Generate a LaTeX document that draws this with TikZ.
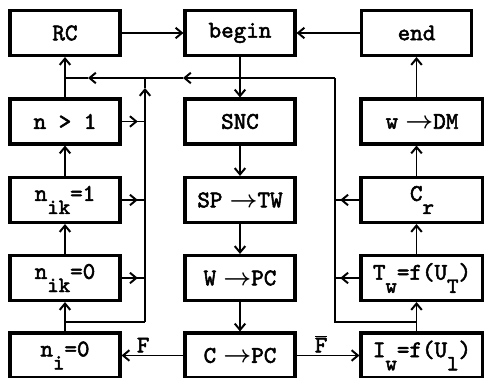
\documentclass[tikz,border=0pt]{standalone}
\usepackage{fontspec}
\usepackage{tikz}
\usetikzlibrary{arrows.meta}

% heavy typewriter face of the chart
\newfontfamily\chartfont{lmmono10-regular.otf}[FakeBold=2.2]
% lowered index, as in the scanned chart
\newcommand{\lowsub}[1]{\raisebox{-0.55em}{\fontsize{15.5}{16}\selectfont #1}}
% "becomes" arrow inside a block text
\newcommand{\into}{\hspace{0.3em}$\rightarrow$}

\begin{document}
\begin{tikzpicture}[>={Straight Barb[length=4.5pt,width=7.5pt]},
    every node/.style={font=\fontsize{17}{19}\selectfont\chartfont\boldmath},
    block/.style={draw, line width=2.2pt, minimum width=2.75cm, minimum height=1.125cm, inner sep=0pt},
    wideblock/.style={block, minimum width=3.05cm},
    link/.style={line width=1.4pt},
    flag/.style={above, inner sep=1.5pt}]

\useasboundingbox (0,0) rectangle (12.1,9.45);

% =========================================================
% Control chart: start/stop in the top row, three columns
% =========================================================

% --- 1. BLOCKS ---
% Top row
\node[block] (RC)    at (1.625,8.625)   {RC};
\node[block] (Begin) at (6.0,8.625)     {begin};
\node[block] (End)   at (10.4125,8.625) {end};

% Left column: counters
\node[block] (Ngt)  at (1.625,6.4125) {n > 1};
\node[block] (Nik1) at (1.625,4.45)   {n\lowsub{ik}=1};
\node[block] (Nik0) at (1.625,2.5)    {n\lowsub{ik}=0};
\node[block] (Ni0)  at (1.625,0.5625) {n\lowsub{i}=0};

% Middle column: main chain
\node[block] (SNC)  at (6.0,6.4125) {SNC};
\node[block] (SPTW) at (6.0,4.45)   {SP\into TW};
\node[block] (WPC)  at (6.0,2.5)    {W\into PC};
\node[block] (CPC)  at (6.0,0.5625) {C\into PC};

% Right column: measurement
\node[wideblock] (WDM) at (10.55,6.4125) {w\into DM};
\node[wideblock] (Cr)  at (10.55,4.45)   {C\lowsub{r}};
\node[wideblock] (Tw)  at (10.55,2.5)    {T\lowsub{w}=f(U\lowsub{T})};
\node[wideblock] (Iw)  at (10.55,0.5625) {I\lowsub{w}=f(U\lowsub{l})};

% --- 2. BUS COORDINATES ---
\coordinate (busTopR) at (8.375,7.5);
\coordinate (busTopL) at (RC |- busTopR);
\coordinate (busTopM) at (3.625,7.5);
\coordinate (arrTopA) at (4.575,7.5);
\coordinate (arrTopB) at (2.2,7.5);
\coordinate (busBotL) at (3.625,1.4);
\coordinate (busBotR) at (8.375,1.4);
\coordinate (arrUpL)  at (3.625,7.25);

% --- 3. MAIN FLOW ---
\draw[link,->] (RC) -- (Begin);
\draw[link,->] (End) -- (Begin);
\draw[link,->] (Begin) -- (SNC);
\draw[link,->] (SNC) -- (SPTW);
\draw[link,->] (SPTW) -- (WPC);
\draw[link,->] (WPC) -- (CPC);
\draw[link,->] (CPC) -- node[flag, pos=0.65] {F} (Ni0);
\draw[link,->] (CPC) -- node[flag, pos=0.39] {$\overline{\mbox{F}}$} (Iw);

% Left column upwards
\draw[link,->] (Ni0) -- (Nik0);
\draw[link,->] (Nik0) -- (Nik1);
\draw[link,->] (Nik1) -- (Ngt);
\draw[link,->] (Ngt) -- (RC);

% Right column upwards (on the axis of end)
\draw[link,->] (Iw.north -| End) -- (Tw.south -| End);
\draw[link,->] (Tw.north -| End) -- (Cr.south -| End);
\draw[link,->] (Cr.north -| End) -- (WDM.south -| End);
\draw[link,->] (WDM.north -| End) -- (End);

% --- 4. RETURN LINES ---
% left bus
\draw[link] (RC |- busBotL) -- (busBotL);
\draw[link,->] (busBotL) -- (arrUpL);
\draw[link] (arrUpL) -- (busTopM);
\foreach \b in {Ngt,Nik1,Nik0} {
    \draw[link] (\b.east) -- (\b.east -| busBotL);
    \draw[link,->,shorten >=0.18cm] (\b.east) -- (\b.east -| busBotL);
}

% right bus and top line
\draw[link] (End |- busBotR) -- (busBotR) -- (busTopR);
\draw[link,->] (busTopR) -- (arrTopA);
\draw[link,->] (arrTopA) -- (arrTopB);
\draw[link] (arrTopB) -- (busTopL);
\foreach \b in {Cr,Tw} {
    \draw[link] (\b.west) -- (\b.west -| busBotR);
    \draw[link,->,shorten >=0.13cm] (\b.west) -- (\b.west -| busBotR);
}

\end{tikzpicture}
\end{document}
